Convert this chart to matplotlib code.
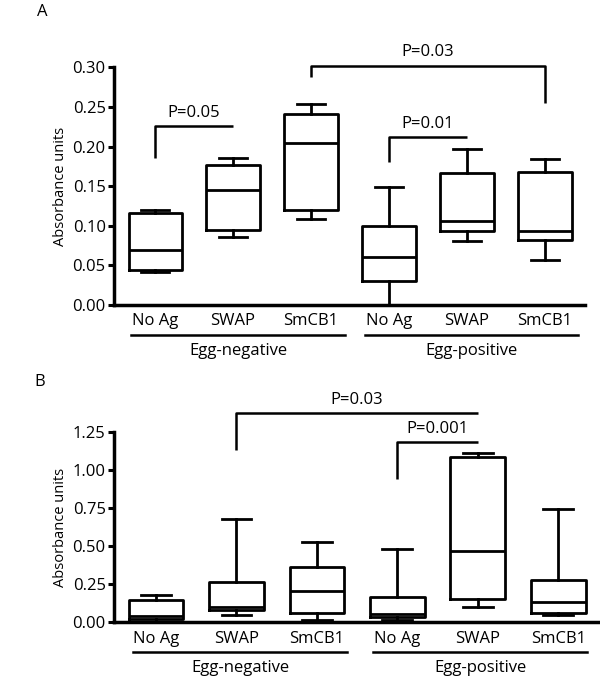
import matplotlib
matplotlib.use('Agg')
import matplotlib.pyplot as plt
import matplotlib.transforms as mtransforms

plt.rcParams['font.family'] = ['Open Sans', 'DejaVu Sans']

categories = ['No Ag', 'SWAP', 'SmCB1', 'No Ag', 'SWAP', 'SmCB1']
groups = ['Egg-negative', 'Egg-positive']

# panel A box stats
a_min = [0.042, 0.086, 0.109, 0.000, 0.081, 0.057]
a_q1 = [0.044, 0.095, 0.120, 0.030, 0.093, 0.082]
a_med = [0.070, 0.145, 0.204, 0.060, 0.106, 0.093]
a_q3 = [0.116, 0.177, 0.241, 0.100, 0.166, 0.168]
a_max = [0.120, 0.186, 0.254, 0.149, 0.197, 0.184]

# panel B box stats
b_min = [0.005, 0.046, 0.015, 0.015, 0.103, 0.048]
b_q1 = [0.022, 0.078, 0.062, 0.035, 0.151, 0.060]
b_med = [0.042, 0.098, 0.205, 0.052, 0.465, 0.136]
b_q3 = [0.146, 0.262, 0.365, 0.168, 1.082, 0.277]
b_max = [0.180, 0.675, 0.524, 0.479, 1.108, 0.743]

# brackets: (left box, right box, left leg bottom, bar level, right leg bottom, text)
a_brackets = [(1, 2, 0.185, 0.226, None, 'P=0.05'),
              (3, 6, 0.288, 0.302, 0.255, 'P=0.03'),
              (4, 5, 0.180, 0.212, None, 'P=0.01')]
b_brackets = [(2, 5, 1.13, 1.375, None, 'P=0.03'),
              (4, 5, 0.94, 1.185, None, 'P=0.001')]

# group underline spans (in box units)
a_spans = [(0.69, 3.44), (3.69, 6.42)]
b_spans = [(0.71, 3.38), (3.70, 6.36)]

W, H = 600, 678
fig = plt.figure(figsize=(6, 6.78), dpi=100)


def draw_panel(rect, lo, q1, med, q3, hi, brackets, spans, ylim, yticks, xlim, letter, letter_xy, lw_box=2.0):
    ax = fig.add_axes(rect)
    stats = []
    for i in range(len(categories)):
        stats.append(dict(whislo=lo[i], q1=q1[i], med=med[i], q3=q3[i], whishi=hi[i], fliers=[]))
    pos = list(range(1, len(categories) + 1))
    ax.bxp(stats, positions=pos, widths=0.68, showfliers=False,
           boxprops=dict(color='black', linewidth=lw_box),
           medianprops=dict(color='black', linewidth=lw_box),
           whiskerprops=dict(color='black', linewidth=lw_box),
           capprops=dict(color='black', linewidth=lw_box),
           capwidths=0.37)
    ax.set_xlim(*xlim)
    ax.set_ylim(*ylim)
    ax.set_yticks(yticks)
    ax.set_yticklabels(['%.2f' % v for v in yticks])
    ax.set_xticks(pos)
    ax.set_xticklabels(categories)
    for s in ['top', 'right']:
        ax.spines[s].set_visible(False)
    for s in ['left', 'bottom']:
        ax.spines[s].set_linewidth(2.5)
    ax.tick_params(axis='y', direction='out', length=4, width=2.2, labelsize=12, pad=2)
    ax.tick_params(axis='x', length=0, labelsize=12, pad=6)
    ax.set_ylabel('Absorbance units', fontsize=10.5, labelpad=3)

    # significance brackets
    for x1, x2, y1, ybar, y2, txt in brackets:
        xs = [x1, x1, x2]
        ys = [y1, ybar, ybar]
        if y2 is not None:
            xs.append(x2)
            ys.append(y2)
        ax.plot(xs, ys, color='black', lw=1.8, clip_on=False, solid_capstyle='butt')
        ax.text((x1 + x2) / 2, ybar + (ylim[1] - ylim[0]) * 0.022, txt,
                ha='center', va='bottom', fontsize=12, clip_on=False)

    # group underlines and labels below the axis, offset in pixels
    base = mtransforms.blended_transform_factory(ax.transData, ax.transAxes)
    line_tr = base + mtransforms.ScaledTranslation(0, -30 / 100, fig.dpi_scale_trans)
    text_tr = base + mtransforms.ScaledTranslation(0, -38 / 100, fig.dpi_scale_trans)
    for g, (a, b) in zip(groups, spans):
        ax.plot([a, b], [0, 0], transform=line_tr, color='black', lw=1.8, clip_on=False)
        ax.text((a + b) / 2, 0, g, transform=text_tr, ha='center', va='top', fontsize=12)

    fig.text(letter_xy[0] / W, 1 - letter_xy[1] / H, letter, fontsize=12, ha='center', va='center')
    return ax


draw_panel([114 / W, 1 - 305 / H, (585 - 114) / W, (305 - 67.3) / H],
           a_min, a_q1, a_med, a_q3, a_max, a_brackets, a_spans,
           (0, 0.30), [0, 0.05, 0.10, 0.15, 0.20, 0.25, 0.30],
           (0.474, 6.513), 'A', (42, 12))

draw_panel([114 / W, 1 - 622.3 / H, (600 - 114) / W, (622.3 - 431.7) / H],
           b_min, b_q1, b_med, b_q3, b_max, b_brackets, b_spans,
           (0, 1.25), [0, 0.25, 0.50, 0.75, 1.00, 1.25],
           (0.478, 6.52), 'B', (40, 382))

fig.savefig('out.png', dpi=100)
